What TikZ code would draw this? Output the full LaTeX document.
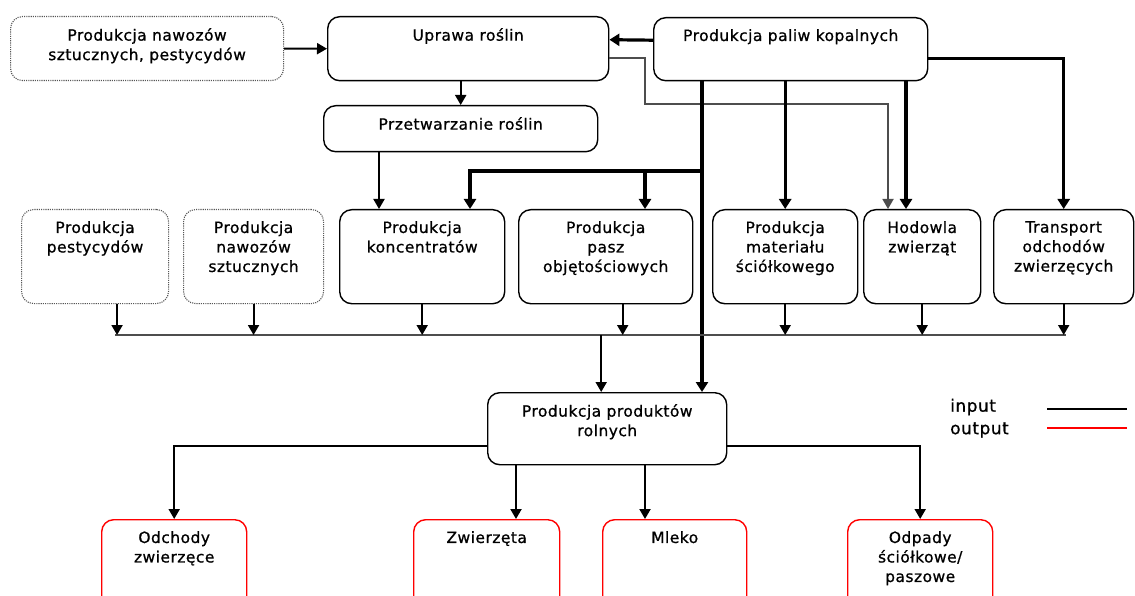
\documentclass[tikz,border=0pt]{standalone}
\usepackage{fontspec}
\setmainfont[LetterSpace=3,FakeBold=0.8]{DejaVu Sans}
\usepackage{xcolor}
\usepackage{tikz}
\usetikzlibrary{arrows.meta}
\definecolor{outred}{HTML}{FF0000}
\definecolor{dotgray}{HTML}{555555}
\definecolor{busgray}{HTML}{4D4D4D}
\tikzset{
  blok/.style={draw=black, line width=1.4pt, rounded corners=12pt},
  blokdot/.style={draw=dotgray, line width=1.1pt, dash pattern=on 1.1pt off 1.1pt, rounded corners=12pt},
  blokout/.style={draw=outred, line width=1.4pt, rounded corners=12pt},
  txt/.style={align=center, inner sep=0pt, font=\fontsize{15.5}{19.5}\selectfont},
  arr/.style={-{Triangle[width=11pt,length=10pt]}, line width=2pt},
  arrthick/.style={-{Triangle[width=12pt,length=10pt]}, line width=3.2pt},
  thinln/.style={line width=1.8pt, draw=busgray},
  bus/.style={line width=1.8pt, draw=busgray},
  legin/.style={line width=1.8pt, draw=black},
  legout/.style={line width=1.8pt, draw=outred}
}
\newcommand{\Blok}[6]{% name, top-left corner, width, height, style, text
  \node[#5, anchor=north west, minimum width=#3pt, minimum height=#4pt, inner sep=0pt] (#1) at (#2) {};
  \node[txt, anchor=north, yshift=-12pt] (#1-t) at (#1.north) {#6};
}

\begin{document}
\begin{tikzpicture}[x=1pt, y=-1pt]
  \useasboundingbox (0,0) rectangle (1135,596);
  \clip (0,0) rectangle (1135,596);

  % upper part
  \Blok{nawT}{10,16}{273}{64}{blokdot}{Produkcja nawozów\\sztucznych, pestycydów}
  \Blok{upr}{327,16}{281}{64}{blok}{Uprawa roślin}
  \Blok{pal}{653,17}{274}{63}{blok}{Produkcja paliw kopalnych}
  \Blok{prz}{323,105}{274}{46}{blok}{Przetwarzanie roślin}

  % row of processes
  \Blok{pest}{21,209}{147}{94}{blokdot}{Produkcja\\pestycydów}
  \Blok{nawS}{183,209}{140}{94}{blokdot}{Produkcja\\nawozów\\sztucznych}
  \Blok{konc}{339,209}{165}{94}{blok}{Produkcja\\koncentratów}
  \Blok{pasz}{518,209}{174}{94}{blok}{Produkcja\\pasz\\objętościowych}
  \Blok{mat}{712,209}{145}{94}{blok}{Produkcja\\materiału\\ściółkowego}
  \Blok{hod}{863,209}{117}{94}{blok}{Hodowla\\zwierząt}
  \Blok{trans}{993,209}{140}{94}{blok}{Transport\\odchodów\\zwierzęcych}

  \Blok{prod}{487,392}{239}{72}{blok}{Produkcja produktów\\rolnych}

  % outputs
  \Blok{odch}{101,519}{145}{95}{blokout}{Odchody\\zwierzęce}
  \Blok{zwie}{413,519}{146}{95}{blokout}{Zwierzęta}
  \Blok{mleko}{602,519}{144}{95}{blokout}{Mleko}
  \Blok{odp}{847,519}{145}{95}{blokout}{Odpady\\ściółkowe/\\paszowe}

  \coordinate (kin1) at ([xshift=40pt]konc.north west);
  \coordinate (kin2) at ([xshift=131pt]konc.north west);
  \coordinate (pin) at ([xshift=127pt]pasz.north west);
  \coordinate (hin1) at ([xshift=25pt]hod.north west);
  \coordinate (hin2) at ([xshift=43pt]hod.north west);
  \coordinate (pdown) at ([xshift=49pt]pal.south west);
  \coordinate (jn) at (pdown |- 0,171);
  \coordinate (busL) at (115,335);
  \coordinate (busR) at (1066,335);

  \draw[arr] (nawT.east) -- (upr.west);
  \draw[arrthick] ([yshift=9pt]pal.west) -- ([yshift=9pt]upr.east);
  \draw[arr] (prz.north |- upr.south) -- (prz.north);
  \draw[arr] (kin1 |- prz.south) -- (kin1);
  \draw[thinln, -{Triangle[width=11pt,length=10pt]}] ([yshift=-9pt]upr.east) -| (645,104) -| (hin1);

  % fuel
  \draw[arrthick] (pdown) -- (pdown |- prod.north);
  \draw[arrthick] (jn) -| (kin2);
  \draw[arrthick] (jn -| pin) -- (pin);
  \draw[arrthick] (mat.north |- pal.south) -- (mat.north);
  \draw[arrthick] (hin2 |- pal.south) -- (hin2);
  \draw[arrthick] ([yshift=-9pt]pal.east) -| (trans.north);

  % collecting line
  \draw[bus] (busL) -- (busR);
  \draw[arr] ([xshift=22pt]pest.south) -- ([xshift=22pt]pest.south |- busL);
  \draw[arr] ([xshift=17pt]pasz.south) -- ([xshift=17pt]pasz.south |- busL);
  \foreach \n in {nawS,konc,mat,hod,trans}
    \draw[arr] (\n.south) -- (\n.south |- busL);
  \draw[arr] ([xshift=-6pt]prod.north |- busL) -- ([xshift=-6pt]prod.north);

  \draw[arr] ([yshift=-17pt]prod.west) -| (odch.north);
  \draw[arr] ([xshift=103pt]zwie.north west |- prod.south) -- ([xshift=103pt]zwie.north west);
  \draw[arr] ([xshift=43pt]mleko.north west |- prod.south) -- ([xshift=43pt]mleko.north west);
  \draw[arr] ([yshift=-17pt]prod.east) -| (odp.north);

  % legend
  \node[txt, anchor=west, font=\fontsize{17}{20}\selectfont] (lin) at (950,407) {input};
  \node[txt, anchor=west, font=\fontsize{17}{20}\selectfont] (lout) at (950,430) {output};
  \coordinate (li1) at (1047,409);
  \coordinate (li2) at (1127,409);
  \coordinate (lo1) at (1047,428);
  \coordinate (lo2) at (1127,428);
  \draw[legin] (li1) -- (li2);
  \draw[legout] (lo1) -- (lo2);
\end{tikzpicture}
\end{document}
